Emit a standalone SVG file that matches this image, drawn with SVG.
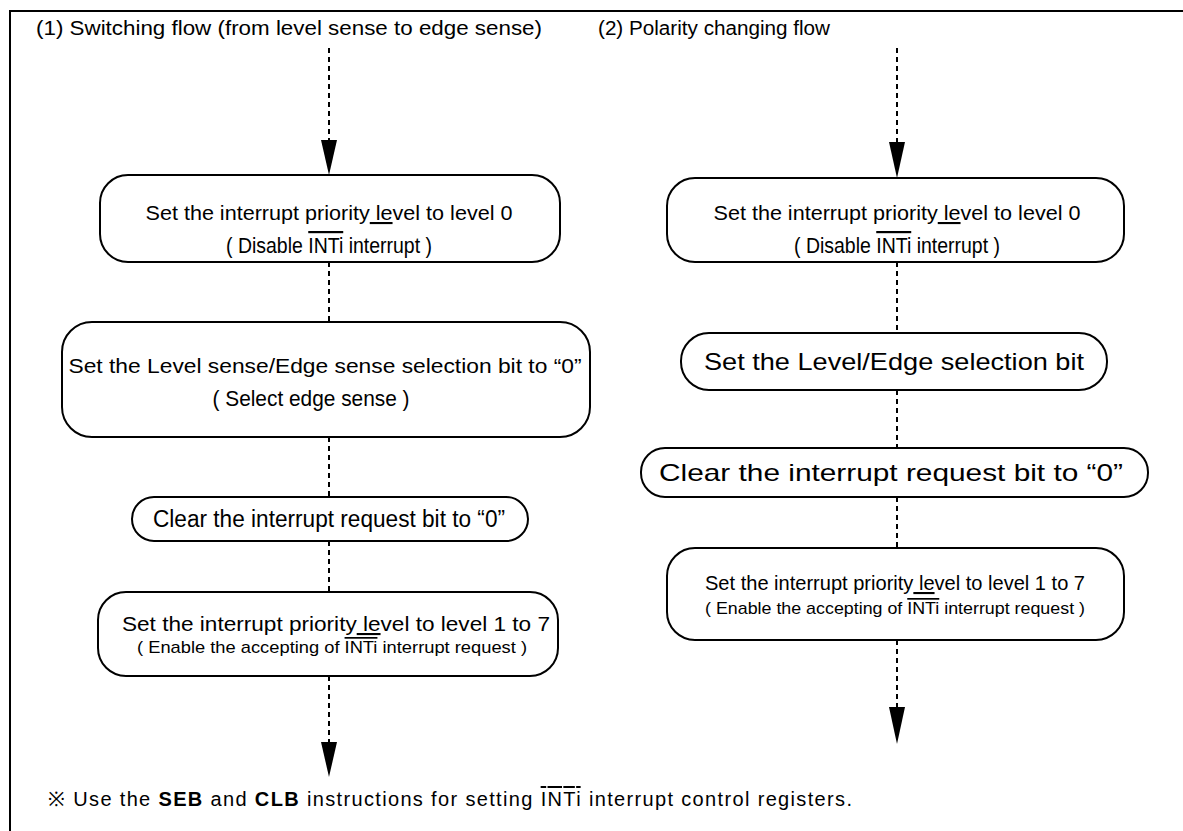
<svg xmlns="http://www.w3.org/2000/svg" width="1183" height="831" viewBox="0 0 1183 831">
<defs>
<style>
.frame{fill:none;stroke:#000;stroke-width:2}
.box{fill:#fff;stroke:#000;stroke-width:2}
.dash{fill:none;stroke:#000;stroke-width:2;stroke-dasharray:5 4}
.t{font-family:"Liberation Sans Narrow","Liberation Sans",Arial,sans-serif;fill:#000;text-anchor:middle}
.h{font-family:"Liberation Sans",Arial,sans-serif;fill:#000;font-size:20px}
.ov{text-decoration:overline}
.ul{text-decoration:underline}
</style>
</defs>
<rect width="1183" height="831" fill="#fff"/>
<path class="frame" d="M10,831 V11 H1183"/>
<text class="h" x="36" y="35" textLength="506" lengthAdjust="spacingAndGlyphs">(1) Switching flow (from level sense to edge sense)</text>
<text class="h" x="598" y="35" textLength="232" lengthAdjust="spacingAndGlyphs">(2) Polarity changing flow</text>
<g id="connectors">
<line class="dash" x1="329" y1="48" x2="329" y2="141"/>
<path d="M321,140 L337,140 L329,175 Z"/>
<line class="dash" x1="329" y1="262" x2="329" y2="322"/>
<line class="dash" x1="329" y1="437" x2="329" y2="497"/>
<line class="dash" x1="329" y1="541" x2="329" y2="592"/>
<line class="dash" x1="329" y1="676" x2="329" y2="743"/>
<path d="M321,742 L337,742 L329,777 Z"/>
<line class="dash" x1="897" y1="48" x2="897" y2="143"/>
<path d="M889,142 L905,142 L897,178 Z"/>
<line class="dash" x1="897" y1="262" x2="897" y2="333"/>
<line class="dash" x1="897" y1="390" x2="897" y2="448"/>
<line class="dash" x1="897" y1="497" x2="897" y2="548"/>
<line class="dash" x1="897" y1="640" x2="897" y2="708"/>
<path d="M889,707 L905,707 L897,744 Z"/>
</g>
<g id="n1">
<rect class="box" x="100" y="175" width="460" height="87" rx="28"/>
<text class="t" x="329" y="220" font-size="21" textLength="367" lengthAdjust="spacingAndGlyphs">Set the interrupt priority<tspan class="ul"> le</tspan>vel  to level 0</text>
<text class="t" x="329" y="253" font-size="22" textLength="206" lengthAdjust="spacingAndGlyphs">( Disable <tspan class="ov">INTi</tspan> interrupt )</text>
</g>
<g id="n2">
<rect class="box" x="62" y="322" width="528" height="115" rx="30"/>
<text class="t" x="325" y="373" font-size="21" textLength="513" lengthAdjust="spacingAndGlyphs">Set the Level sense/Edge sense selection bit to “0”</text>
<text class="t" x="311" y="406" font-size="22" textLength="197" lengthAdjust="spacingAndGlyphs">( Select edge sense )</text>
</g>
<g id="n3">
<rect class="box" x="132" y="497" width="396" height="44" rx="22"/>
<text class="t" x="329" y="527" font-size="23" textLength="352" lengthAdjust="spacingAndGlyphs">Clear the interrupt request bit to “0”</text>
</g>
<g id="n4">
<rect class="box" x="98" y="592" width="460" height="84" rx="28"/>
<text class="t" x="336" y="631" font-size="21" textLength="428" lengthAdjust="spacingAndGlyphs">Set the interrupt priority<tspan class="ul"> le</tspan>vel  to level 1 to 7</text>
<text class="t" x="332" y="653" font-size="17" textLength="390" lengthAdjust="spacingAndGlyphs">( Enable the accepting of <tspan class="ov">INTi</tspan> interrupt request )</text>
</g>
<g id="r1">
<rect class="box" x="667" y="178" width="457" height="84" rx="28"/>
<text class="t" x="897" y="220" font-size="21" textLength="367" lengthAdjust="spacingAndGlyphs">Set the interrupt priority<tspan class="ul"> le</tspan>vel  to level 0</text>
<text class="t" x="897" y="253" font-size="22" textLength="206" lengthAdjust="spacingAndGlyphs">( Disable <tspan class="ov">INTi</tspan> interrupt )</text>
</g>
<g id="r2">
<rect class="box" x="681" y="333" width="426" height="57" rx="28"/>
<text class="t" x="894" y="370" font-size="24" textLength="380" lengthAdjust="spacingAndGlyphs">Set the Level/Edge selection bit</text>
</g>
<g id="r3">
<rect class="box" x="641" y="448" width="507" height="49" rx="24"/>
<text class="t" x="891" y="481" font-size="24" textLength="464" lengthAdjust="spacingAndGlyphs">Clear the interrupt request bit to “0”</text>
</g>
<g id="r4">
<rect class="box" x="667" y="548" width="457" height="92" rx="28"/>
<text class="t" x="895" y="590" font-size="21" textLength="380" lengthAdjust="spacingAndGlyphs">Set the interrupt priority<tspan class="ul"> le</tspan>vel  to level 1 to 7</text>
<text class="t" x="895" y="614" font-size="17" textLength="380" lengthAdjust="spacingAndGlyphs">( Enable  the accepting of <tspan class="ov">INTi</tspan> interrupt request )</text>
</g>
<text class="h" x="48" y="806" textLength="804" lengthAdjust="spacing">※ Use the <tspan font-weight="bold">SEB</tspan> and <tspan font-weight="bold">CLB</tspan> instructions for setting <tspan class="ov">INTi</tspan> interrupt control registers.</text>
</svg>
